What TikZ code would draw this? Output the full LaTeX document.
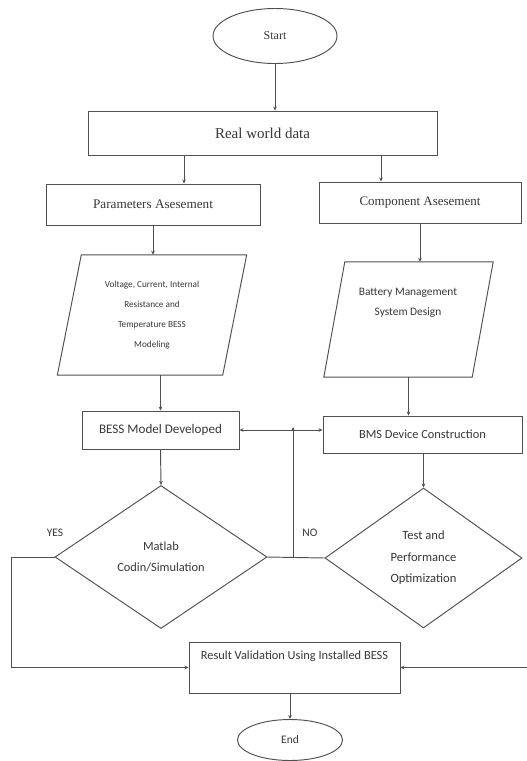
\documentclass[tikz,border=0pt]{standalone}
\usepackage{fontspec}
\setmainfont{Liberation Serif}
\newfontfamily\calfnt{Carlito}
\usetikzlibrary{shapes.geometric,arrows.meta}
\definecolor{ln}{HTML}{505050}
\definecolor{tx}{HTML}{383838}
\begin{document}
\begin{tikzpicture}[x=1pt,y=-1pt,
  every node/.style={text=tx},
  ln/.style={draw=ln,line width=0.95pt},
  arr/.style={ln,-{Stealth[length=4pt,width=3.6pt]}},
  arrb/.style={ln,{Stealth[length=4pt,width=3.6pt]}-{Stealth[length=4pt,width=3.6pt]}},
  box/.style={draw=ln,line width=0.95pt,rectangle,inner sep=0pt},
  term/.style={draw=ln,line width=0.95pt,ellipse,inner sep=0pt},
  dec/.style={draw=ln,line width=0.95pt,diamond,inner sep=0pt,align=center},
  pgram/.style={rectangle,inner sep=0pt},
  ser/.style={font=\fontsize{#1}{#1}\selectfont},
  san/.style={font=\calfnt\fontsize{#1}{20}\selectfont,align=center},
  sanw/.style={font=\calfnt\fontsize{#1}{21.5}\selectfont,align=center}
]
\useasboundingbox (0,0) rectangle (527,761);
\fill[white] (0,0) rectangle (527,761);

% nodes
\node[term,minimum width=124,minimum height=55,ser=12] (start) at (275,36) {Start};
\node[box,minimum width=349,minimum height=44,ser=15] (rwd) at (262.5,133) {Real world data};
\node[box,minimum width=214,minimum height=41,ser=13.2] (pa) at (153,204.5) {Parameters Asesement};
\node[box,minimum width=202,minimum height=41,ser=13] (ca) at (420,202.5) {Component Asesement};

\node[pgram,minimum width=165,minimum height=120,san=9.2] (p1) at (152,315)
  {Voltage, Current, Internal\\Resistance and\\Temperature BESS\\Modeling};
\draw[ln] ([xshift=12]p1.north west) -- ([xshift=12]p1.north east)
  -- ([xshift=-12]p1.south east) -- ([xshift=-12]p1.south west) -- cycle;

\node[pgram,minimum width=148,minimum height=115] (p2) at (408.5,319.5) {};
\draw[ln] ([xshift=10.5]p2.north west) -- ([xshift=10.5]p2.north east)
  -- ([xshift=-10.5]p2.south east) -- ([xshift=-10.5]p2.south west) -- cycle;
\node[san=11.4] (p2t) at (408,303) {Battery Management\\System Design};

\node[box,minimum width=157,minimum height=38,san=13.1] (bess) at (160.5,430) {BESS Model Developed};
\node[box,minimum width=199,minimum height=37,san=12.4] (bms) at (422.5,434.5) {BMS Device Construction};

\node[dec,minimum width=212,minimum height=143,sanw=12.4] (mat) at (161,557) {Matlab\\Codin/Simulation};
\node[dec,minimum width=197,minimum height=140,sanw=12.6] (test) at (423.5,558) {Test and\\Performance\\Optimization};

\node[box,minimum width=211,minimum height=51] (res) at (294.5,667.5) {};
\node[font=\calfnt\fontsize{12.4}{14}\selectfont] (rest) at (294.5,656) {Result Validation Using Installed BESS};

\node[term,minimum width=105,minimum height=41,font=\calfnt\fontsize{11.5}{12}\selectfont] (end) at (290,740) {End};

\node[font=\calfnt\fontsize{11.5}{12}\selectfont] (yes) at (55,533) {YES};
\node[font=\calfnt\fontsize{11.5}{12}\selectfont] (no) at (310,533) {NO};

% helper coordinates
\coordinate (xl) at (184,0);
\coordinate (xr) at (381,0);
\coordinate (j) at (293,557);
\coordinate (yl) at (11,557);
\coordinate (rr) at (527,667.5);

% connectors
\draw[arr] (start.south) -- (start.south |- rwd.north);
\draw[arr] (rwd.south -| xl) -- (pa.north -| xl);
\draw[arr] (rwd.south -| xr) -- (ca.north -| xr);
\draw[arr] (pa.south) -- (pa.south |- p1.north);
\draw[arr] (ca.south) -- (ca.south |- p2.north);
\draw[arr] (p1.south -| bess.north) -- (bess.north);
\draw[arr] (p2.south) -- (p2.south |- bms.north);
\draw[arrb] (bess.east) -- (bess.east -| bms.west);
\draw[arr] (bess.south) -- (mat.north);
\draw[arr] (bms.south -| test.north) -- (test.north);
\draw[ln] (mat.east) -- (test.west);
\draw[arr] (j) -- ([yshift=3]j |- bess.east);
\draw[arr] (mat.west) -- (yl) |- (res.west);
\draw[arr] (rr) -- (res.east);
\draw[arr] (res.south -| end.north) -- (end.north);
\end{tikzpicture}
\end{document}
